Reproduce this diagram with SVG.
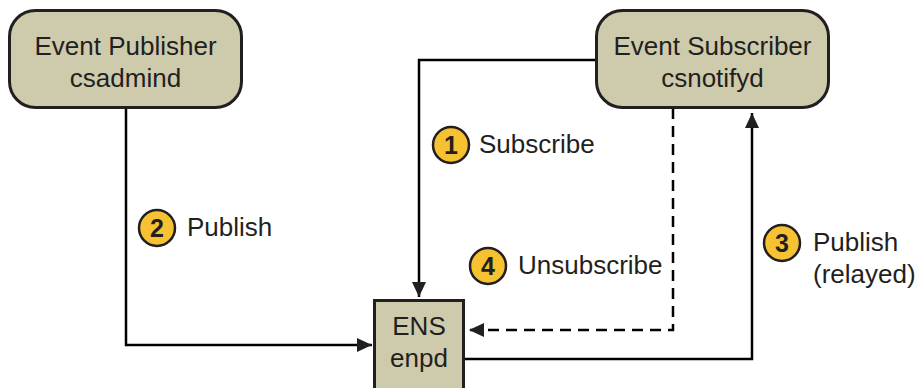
<svg xmlns="http://www.w3.org/2000/svg" width="915" height="388" viewBox="0 0 915 388">
<defs>
<style>
.node{fill:#cdcbab;stroke:#231f20;stroke-width:3}
.t{font-family:"Liberation Sans",Arial,sans-serif;font-size:26px;fill:#231f20}
.c{text-anchor:middle}
.ln{fill:none;stroke:#000;stroke-width:2.5}
.dash{stroke-dasharray:11 7}
.badge{fill:#f6c232;stroke:#231f20;stroke-width:2.5}
.bn{font-family:"Liberation Sans",Arial,sans-serif;font-size:25px;font-weight:bold;fill:#231f20;text-anchor:middle}
</style>
<marker id="ah" viewBox="0 0 15 14" refX="15" refY="7" markerWidth="15" markerHeight="14" markerUnits="userSpaceOnUse" orient="auto">
<path d="M0,0 L15,7 L0,14 Z" fill="#231f20"/>
</marker>
</defs>
<rect width="915" height="388" fill="#fff"/>
<g id="connectors">
<path class="ln" d="M126,108 V345 H372" marker-end="url(#ah)"/>
<path class="ln" d="M596,60 H419 V297" marker-end="url(#ah)"/>
<path class="ln dash" d="M673,108 V330 H469" marker-end="url(#ah)"/>
<path class="ln" d="M464,359 H752 V113" marker-end="url(#ah)"/>
</g>
<g id="publisher">
<rect class="node" x="9.5" y="10.5" width="232" height="97" rx="26"/>
<text class="t c" x="125.5" y="55">Event Publisher</text>
<text class="t c" x="125.5" y="87">csadmind</text>
</g>
<g id="subscriber">
<rect class="node" x="596.5" y="10.5" width="232" height="97" rx="26"/>
<text class="t c" x="712.5" y="55">Event Subscriber</text>
<text class="t c" x="712.5" y="87">csnotifyd</text>
</g>
<g id="ens">
<rect class="node" x="374.5" y="300.5" width="89" height="100"/>
<text class="t c" x="419" y="335">ENS</text>
<text class="t c" x="419" y="367">enpd</text>
</g>
<g id="label1">
<circle class="badge" cx="451" cy="145" r="18"/>
<text class="bn" x="451" y="154">1</text>
<text class="t" x="479" y="153">Subscribe</text>
</g>
<g id="label2">
<circle class="badge" cx="157" cy="228" r="18"/>
<text class="bn" x="157" y="237">2</text>
<text class="t" x="187" y="236">Publish</text>
</g>
<g id="label3">
<circle class="badge" cx="782" cy="243" r="18"/>
<text class="bn" x="782" y="252">3</text>
<text class="t" x="813" y="251">Publish</text>
<text class="t" x="813" y="283">(relayed)</text>
</g>
<g id="label4">
<circle class="badge" cx="488" cy="266" r="18"/>
<text class="bn" x="488" y="275">4</text>
<text class="t" x="518" y="274">Unsubscribe</text>
</g>
</svg>
